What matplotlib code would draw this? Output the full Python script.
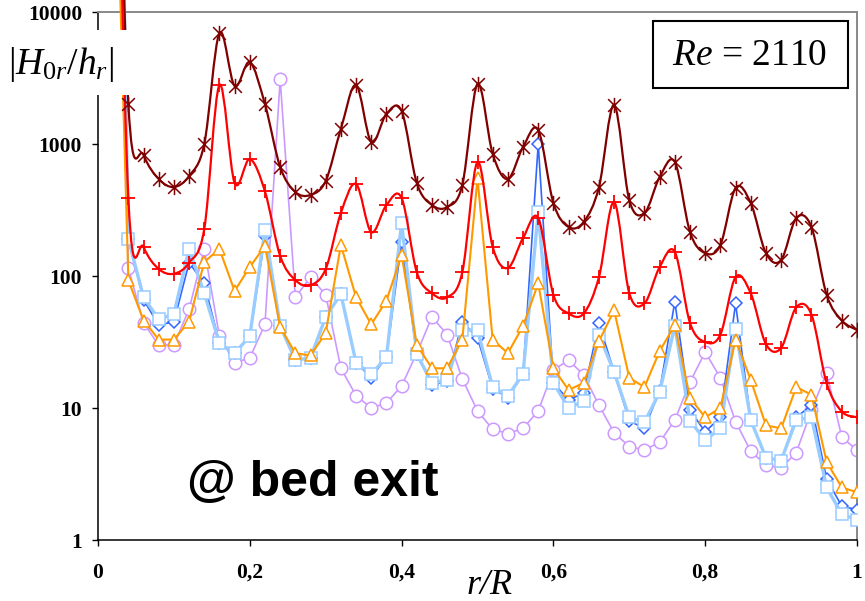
import numpy as np
import matplotlib
matplotlib.use("Agg")
import matplotlib.pyplot as plt
from matplotlib.path import Path
from matplotlib.patches import PathPatch, Rectangle
from matplotlib.ticker import FixedLocator, FixedFormatter, NullLocator

#---------------- data ----------------
r_R = [0.02, 0.04, 0.06, 0.08, 0.10, 0.12, 0.14, 0.16, 0.18, 0.20,
       0.22, 0.24, 0.26, 0.28, 0.30, 0.32, 0.34, 0.36, 0.38, 0.40,
       0.42, 0.44, 0.46, 0.48, 0.50, 0.52, 0.54, 0.56, 0.58, 0.60,
       0.62, 0.64, 0.66, 0.68, 0.70, 0.72, 0.74, 0.76, 0.78, 0.80,
       0.82, 0.84, 0.86, 0.88, 0.90, 0.92, 0.94, 0.96, 0.98, 1.00]

darkred_vals = [1e7, 2000, 826, 543, 472, 572, 1000, 6930, 2750, 4170,
                2000, 670, 433, 411, 525, 1300, 2800, 1036, 1690, 1780,
                507, 345, 333, 490, 2850, 840, 543, 949, 1277, 357,
                235, 257, 470, 1975, 375, 300, 562, 731, 215, 149,
                172, 464, 357, 149, 132, 275, 235, 72, 46, 39]

red_vals = [1e7, 390, 166, 113, 104, 126, 227, 2800, 507, 769,
            437, 142, 93, 85, 113, 300, 498, 215, 345, 390,
            107, 74, 69, 107, 731, 166, 115, 194, 275, 72,
            52, 52, 98, 363, 74, 62, 117, 152, 44, 31.6,
            36, 98, 74, 30.5, 28.5, 58, 51, 15.4, 9.4, 8.5]

orange_vals = [1e6, 93, 46, 33, 33, 45, 128, 160, 77, 117,
               169, 41, 26, 25, 37, 172, 69, 43, 65, 144,
               30, 20, 20, 33, 550, 33, 26, 41.8, 88, 20,
               13.7, 15.5, 32, 55, 16.9, 14.4, 27, 42.5, 11.9, 8.5,
               10, 33, 16.3, 7.4, 7.0, 14.4, 12.6, 3.9, 2.5, 2.3]

blue_vals = [1e9, 190, 66, 42.5, 45, 126, 88, 31, 26, 35,
             200, 42, 23, 24, 49, 73, 22, 17, 24.3, 181,
             25.6, 15, 16, 45, 34, 14, 12, 18, 1000, 15.5,
             11.5, 13, 44, 18.7, 8, 7, 13.5, 64, 9.6, 6.6,
             8.5, 62, 8.1, 4.2, 4.0, 8.5, 10.5, 2.9, 1.8, 1.7]

lightblue_vals = [1e9, 190, 69, 47, 51.5, 160, 74, 31, 26, 35,
                  223, 42, 23, 24, 49, 73, 22, 18, 24.3, 252,
                  25.6, 15.5, 16.3, 39, 39, 14.4, 12.3, 18.2, 305, 15.5,
                  10, 11.3, 36, 18.7, 8.5, 7.8, 13.2, 42, 8, 5.7,
                  7.0, 40, 8.1, 4.2, 4.0, 8.1, 8.5, 2.5, 1.57, 1.42]

lavender_vals = [1e9, 115, 44, 30, 30, 56, 160, 35, 22, 24,
                 43, 3100, 69, 98, 72, 20, 12.4, 10, 10.9, 14.7,
                 26, 49, 36, 16.6, 9.5, 6.9, 6.4, 7.0, 9.5, 19.4,
                 23, 17.8, 10.5, 6.5, 5.1, 4.8, 5.5, 8.1, 15.7, 26.6,
                 16.9, 7.9, 4.7, 3.7, 3.5, 4.6, 9.6, 18.5, 6.0, 4.8]

x_ticks = [0, 0.2, 0.4, 0.6, 0.8, 1.0]
x_labels = ["0", "0,2", "0,4", "0,6", "0,8", "1"]
y_ticks = [1, 10, 100, 1000, 10000]
y_labels = ["1", "10", "100", "1000", "10000"]

#---------------- helpers ----------------
def smooth_path(x, y):
    # Excel-like smoothed line: Catmull-Rom as cubic Bezier in (x, log y)
    pts = np.column_stack([np.asarray(x, float), np.log10(y)])
    n = len(pts)
    verts = [pts[0]]
    codes = [Path.MOVETO]
    for i in range(n - 1):
        p0 = pts[i - 1] if i > 0 else pts[i]
        p1 = pts[i]
        p2 = pts[i + 1]
        p3 = pts[i + 2] if i + 2 < n else p2
        verts += [p1 + (p2 - p0) / 6, p2 - (p3 - p1) / 6, p2]
        codes += [Path.CURVE4] * 3
    verts = np.array(verts)
    verts[:, 1] = 10 ** verts[:, 1]
    return Path(verts, codes)

star = Path([(-1, -1), (1, 1), (-1, 1), (1, -1), (0, -1.2), (0, 1.2)],
            [Path.MOVETO, Path.LINETO, Path.MOVETO, Path.LINETO,
             Path.MOVETO, Path.LINETO])

#---------------- figure ----------------
plt.rcParams['mathtext.fontset'] = 'custom'
plt.rcParams['mathtext.rm'] = 'Liberation Serif'
plt.rcParams['mathtext.it'] = 'Liberation Serif:italic'

fig = plt.figure(figsize=(8.65, 6.01), dpi=100)
ax = fig.add_axes([98 / 865, 1 - 540 / 601, 759 / 865, 528 / 601])
ax.set_yscale('log')

clip = Rectangle((0, 0), 1, 1.03, transform=ax.transAxes)

def straight(vals, color, marker, ms, lw, z):
    ln, = ax.plot(r_R, vals, color=color, lw=lw, marker=marker, ms=ms,
                  mfc='white', mec=color, mew=1.1, zorder=z)
    ln.set_clip_path(clip)

def smoothed(vals, color, marker, ms, mew, z):
    pp = PathPatch(smooth_path(r_R, vals), fill=False, ec=color, lw=1.6,
                   zorder=z, capstyle='round', joinstyle='round')
    ax.add_patch(pp)
    pp.set_clip_path(clip)
    ax.plot(r_R, vals, ls='none', marker=marker, ms=ms, mec=color,
            mfc='none', mew=mew, zorder=z + 0.1)

straight(lavender_vals, '#CC99FF', 'o', 9, 1.2, 2)
straight(blue_vals, '#3366FF', 'D', 5.8, 1.2, 3)
straight(lightblue_vals, '#99CCFF', 's', 8.5, 2.4, 4)
straight(orange_vals, '#FF9900', '^', 9, 1.5, 5)
smoothed(red_vals, '#FF0000', '+', 10, 1.3, 6)
smoothed(darkred_vals, '#800000', star, 11, 1.1, 7)

ax.set_xlim(0, 1)
ax.set_ylim(1, 10000)

ax.xaxis.set_major_locator(FixedLocator(x_ticks))
ax.xaxis.set_major_formatter(FixedFormatter(x_labels))
ax.yaxis.set_major_locator(FixedLocator(y_ticks))
ax.yaxis.set_major_formatter(FixedFormatter(y_labels))
ax.yaxis.set_minor_locator(NullLocator())
ax.xaxis.set_minor_locator(NullLocator())

ax.tick_params(axis='both', direction='out', length=4.5, width=1, colors='black')
ax.tick_params(axis='x', pad=12)
ax.tick_params(axis='y', pad=7)
for lab in ax.get_xticklabels() + ax.get_yticklabels():
    lab.set_fontfamily('Liberation Serif')
    lab.set_fontweight('bold')
    lab.set_fontsize(15.5)

for s in ['left', 'bottom']:
    ax.spines[s].set_color('black')
    ax.spines[s].set_linewidth(1.1)
for s in ['top', 'right']:
    ax.spines[s].set_color('#888888')
    ax.spines[s].set_linewidth(1.4)

#---------------- labels ----------------
# white patch behind the y label (covers spine and lines like in the original)
fig.add_artist(Rectangle((4 / 865, 1 - 95 / 601), 126 / 865, 65 / 601,
                         transform=fig.transFigure, fc='white', ec='none',
                         zorder=10))
fig.text(8 / 865, 1 - 64 / 601, r'$|H_{0r}/h_r|$', fontsize=27,
         ha='left', va='center', zorder=11)

fig.text(490 / 865, 1 - 569 / 601, 'r/R', fontsize=26,
         fontfamily='Liberation Serif', fontstyle='italic',
         ha='center', va='top')

fig.add_artist(Rectangle((653 / 865, 1 - 88 / 601), 195 / 865, 67 / 601,
                         transform=fig.transFigure, fc='white', ec='black',
                         lw=1.5, zorder=10))
fig.text(750 / 865, 1 - 56 / 601, r'$Re$ = 2110', fontsize=27,
         fontfamily='Liberation Serif', ha='center', va='center', zorder=11)

fig.text(187 / 865, 1 - 496 / 601, '@ bed exit', fontsize=36,
         fontfamily='Liberation Sans', fontweight='bold',
         ha='left', va='baseline')

fig.savefig('out.png', dpi=100)
